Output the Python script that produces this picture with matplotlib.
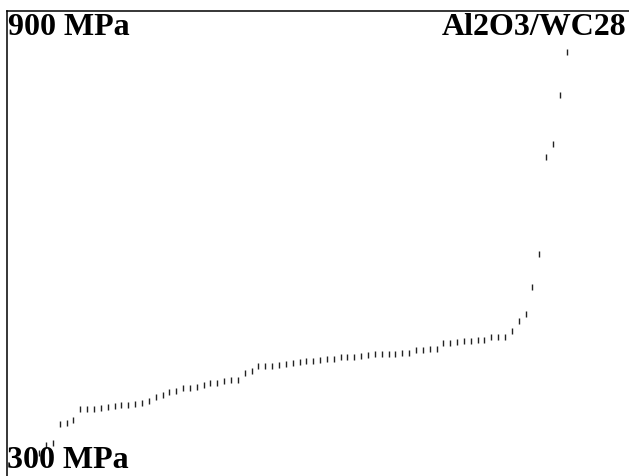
import numpy as np
import matplotlib
matplotlib.use('Agg')
import matplotlib.pyplot as plt

# sorted strength values (MPa), one tick per specimen
strength = [330, 340, 342, 367, 368, 372, 386, 386, 387, 388,
            389, 390, 391, 392, 393, 394, 397, 402, 404, 409,
            410, 413, 414, 415, 418, 420, 420, 423, 424, 424,
            433, 436, 442, 442, 442, 443, 444, 446, 446.5, 448,
            449, 450, 451, 451, 453, 453, 454, 455, 456, 457,
            458, 458, 458, 459, 459, 462, 463, 463.5, 464, 471,
            472, 473.5, 474, 474, 475, 475, 480, 480, 480, 487.5,
            500, 509, 544, 586, 712, 729, 792, 847]
y_min, y_max = 300, 900
label_low = '300 MPa'
label_high = '900 MPa'
material = 'Al2O3/WC28'

W, H = 629, 476
fig = plt.figure(figsize=(W/100, H/100), dpi=100)
ax = fig.add_axes([7/W, 0, 622/W, 465/H])

n = np.arange(len(strength))
ax.plot(n, strength, linestyle='none', marker='|', markersize=3.8,
        markeredgewidth=1.0, color='#222222')

ax.set_xlim(-4.7, 86.1)
ax.set_ylim(y_min, y_max)
ax.set_xticks([])
ax.set_yticks([])
for side in ['right', 'bottom']:
    ax.spines[side].set_visible(False)
for side in ['top', 'left']:
    ax.spines[side].set_linewidth(1.1)
    ax.spines[side].set_color('black')

font = dict(family='Liberation Serif', fontweight='bold', fontsize=23, color='black')
fig.text(8/W, 1 - 35/H, label_high, ha='left', va='baseline', **font)
fig.text(627/W, 1 - 35/H, material, ha='right', va='baseline', **font)
# kept just inside the bottom edge
fig.text(7/W, 1/H, label_low, ha='left', va='bottom', **font)

fig.savefig('out.png', dpi=100)
